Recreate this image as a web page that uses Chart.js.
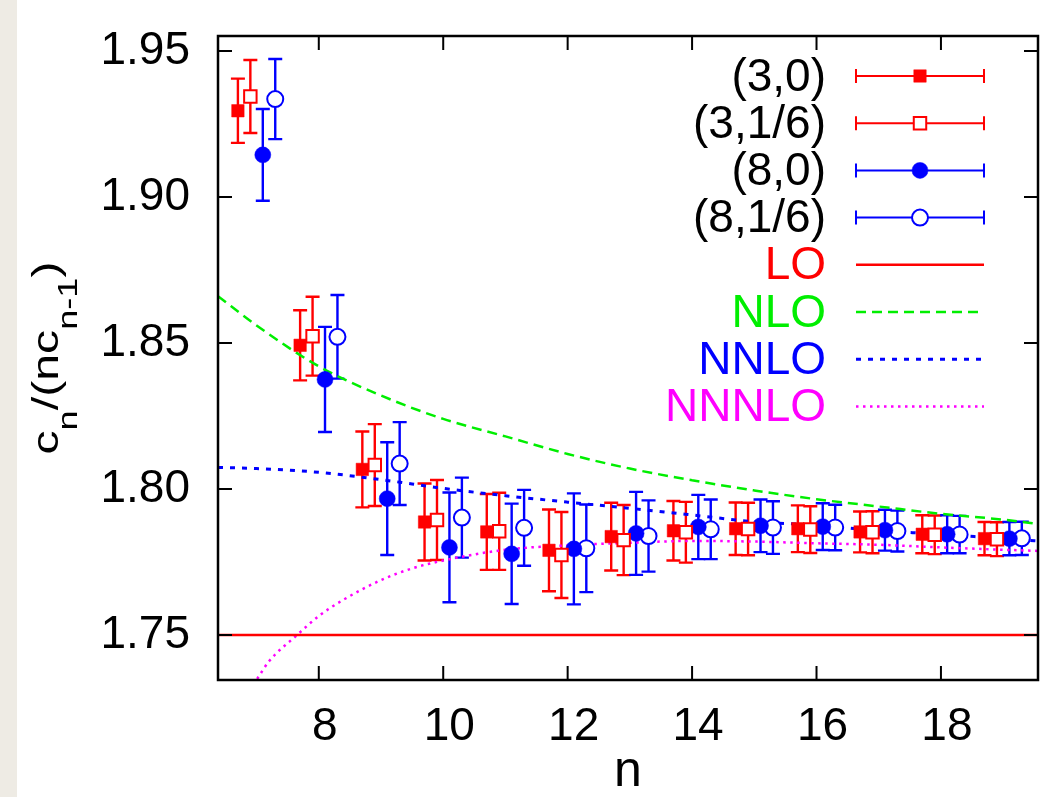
<!DOCTYPE html>
<html>
<head>
<meta charset="utf-8">
<script src="https://cdn.jsdelivr.net/npm/chart.js@4"></script>
<style>
  html, body { margin: 0; padding: 0; background: #fff; }
  #strip { position: absolute; left: 0; top: 0; width: 17px; height: 797px; background: #eeebe4; }
  #wrap { position: absolute; left: 0; top: 0; width: 1056px; height: 797px; }
</style>
</head>
<body>
<div id="strip"></div>
<div id="wrap"><canvas id="chart" width="1056" height="797"></canvas></div>
<script>
const nValues = [7, 8, 9, 10, 11, 12, 13, 14, 15, 16, 17, 18, 19];

const ratio30  = [1.9295, 1.8492, 1.8067, 1.7887, 1.7853, 1.7790, 1.7837, 1.7857, 1.7864, 1.7864, 1.7853, 1.7845, 1.7830];
const err30    = [0.0110, 0.0120, 0.0130, 0.0132, 0.0130, 0.0140, 0.0116, 0.0102, 0.0090, 0.0080, 0.0070, 0.0065, 0.0057];
const ratio316 = [1.9344, 1.8523, 1.8082, 1.7894, 1.7855, 1.7774, 1.7825, 1.7852, 1.7863, 1.7861, 1.7852, 1.7843, 1.7828];
const err316   = [0.0125, 0.0135, 0.0140, 0.0137, 0.0132, 0.0147, 0.0120, 0.0104, 0.0090, 0.0080, 0.0072, 0.0066, 0.0058];
const ratio80  = [1.9144, 1.8375, 1.7967, 1.7800, 1.7778, 1.7795, 1.7848, 1.7870, 1.7874, 1.7871, 1.7859, 1.7845, 1.7830];
const err80    = [0.0157, 0.0180, 0.0193, 0.0188, 0.0172, 0.0190, 0.0142, 0.0110, 0.0090, 0.0080, 0.0070, 0.0065, 0.0057];
const ratio816 = [1.9335, 1.8521, 1.8087, 1.7902, 1.7867, 1.7797, 1.7839, 1.7862, 1.7868, 1.7868, 1.7856, 1.7844, 1.7831];
const err816   = [0.0137, 0.0143, 0.0142, 0.0137, 0.0130, 0.0150, 0.0122, 0.0102, 0.0090, 0.0078, 0.0070, 0.0064, 0.0057];

// theory curves, sampled off the figure
const loN = [6.38, 19.56];
const loValues = [1.75, 1.75];
const nloN = [6.38, 7, 8, 9, 10, 11, 12, 13, 14, 15, 16, 17, 18, 19, 19.56];
const nloValues = [1.866, 1.856, 1.842, 1.832, 1.824, 1.818, 1.812, 1.807, 1.803, 1.7995, 1.7965, 1.794, 1.7915, 1.7895, 1.788];
const nnloN = [6.38, 7, 8, 9, 10, 11, 12, 13, 14, 15, 16, 17, 18, 19, 19.56];
const nnloValues = [1.8074, 1.8070, 1.8057, 1.8032, 1.8002, 1.7977, 1.7955, 1.7934, 1.7911, 1.7888, 1.7876, 1.7857, 1.7845, 1.7830, 1.7822];
const nnnloN = [7.01, 7.2, 7.65, 8, 8.39, 9, 9.5, 10, 11, 12, 13, 14, 15, 16, 17, 18, 19, 19.56];
const nnnloValues = [1.7350, 1.7410, 1.7500, 1.7565, 1.7620, 1.7688, 1.7728, 1.7755, 1.7792, 1.7807, 1.7816, 1.7822, 1.7820, 1.7814, 1.7809, 1.7800, 1.7792, 1.7788];

const xTicks = [8, 10, 12, 14, 16, 18];
const yTicks = [1.75, 1.80, 1.85, 1.90, 1.95];

const FONT = "'Liberation Sans', Arial, sans-serif";

function points(xs, ys, shift) {
    return xs.map((x, i) => ({ x: x + (shift || 0), y: ys[i] }));
}

// vertical error bars with caps, under the markers
const errorBars = {
    id: 'errorBars',
    beforeDatasetsDraw(chart) {
        const ctx = chart.ctx, xs = chart.scales.x, ys = chart.scales.y;
        chart.data.datasets.forEach((ds, i) => {
            if (!ds.errors) return;
            ctx.save();
            ctx.strokeStyle = ds.borderColor;
            ctx.lineWidth = 2.4;
            ds.data.forEach((p, j) => {
                const px = xs.getPixelForValue(p.x);
                const top = ys.getPixelForValue(p.y + ds.errors[j]);
                const bot = ys.getPixelForValue(p.y - ds.errors[j]);
                ctx.beginPath();
                ctx.moveTo(px, top); ctx.lineTo(px, bot);
                ctx.moveTo(px - 7, top); ctx.lineTo(px + 7, top);
                ctx.moveTo(px - 7, bot); ctx.lineTo(px + 7, bot);
                ctx.stroke();
            });
            ctx.restore();
        });
    }
};

function drawMarker(ctx, ds, x, y) {
    const r = ds.pointRadius;
    ctx.fillStyle = ds.backgroundColor;
    ctx.strokeStyle = ds.borderColor;
    ctx.lineWidth = ds.borderWidth;
    ctx.beginPath();
    if (ds.pointStyle === 'rect') {
        const s = r * Math.SQRT1_2;
        ctx.rect(x - s, y - s, 2 * s, 2 * s);
    } else {
        ctx.arc(x, y, r, 0, Math.PI * 2);
    }
    ctx.fill();
    ctx.stroke();
}

// frame, inward ticks, axis titles and the key
const decorations = {
    id: 'decorations',
    afterDraw(chart) {
        const ctx = chart.ctx, a = chart.chartArea;
        const xs = chart.scales.x, ys = chart.scales.y;
        ctx.save();
        ctx.strokeStyle = '#000';
        ctx.lineWidth = 2;
        ctx.beginPath();
        xTicks.forEach(v => {
            const px = xs.getPixelForValue(v);
            ctx.moveTo(px, a.bottom); ctx.lineTo(px, a.bottom - 14);
            ctx.moveTo(px, a.top); ctx.lineTo(px, a.top + 14);
        });
        yTicks.forEach(v => {
            const py = ys.getPixelForValue(v);
            ctx.moveTo(a.left, py); ctx.lineTo(a.left + 14, py);
            ctx.moveTo(a.right, py); ctx.lineTo(a.right - 14, py);
        });
        ctx.stroke();
        ctx.lineWidth = 2.5;
        ctx.strokeRect(a.left, a.top, a.right - a.left, a.bottom - a.top);

        // x title
        ctx.fillStyle = '#000';
        ctx.font = '50px ' + FONT;
        ctx.textAlign = 'center';
        ctx.textBaseline = 'alphabetic';
        ctx.fillText('n', (a.left + a.right) / 2, 786);

        // y title c_n/(nc_{n-1})
        const parts = [['c', 0], ['n', 1], ['/(nc', 0], ['n-1', 1], [')', 0]];
        const mainFont = '36px ' + FONT, subFont = '27px ' + FONT;
        let total = 0;
        parts.forEach(p => { ctx.font = p[1] ? subFont : mainFont; total += ctx.measureText(p[0]).width; });
        ctx.save();
        ctx.translate(58, (a.top + a.bottom) / 2);
        ctx.rotate(-Math.PI / 2);
        ctx.scale(193 / total, 1);
        ctx.textAlign = 'left';
        let cx = -total / 2;
        parts.forEach(p => {
            ctx.font = p[1] ? subFont : mainFont;
            ctx.fillText(p[0], cx, p[1] ? 19 : 0);
            cx += ctx.measureText(p[0]).width;
        });
        ctx.restore();

        // key
        ctx.font = '46px ' + FONT;
        ctx.textAlign = 'right';
        ctx.textBaseline = 'middle';
        const x0 = 856, x1 = 984, xm = 920;
        chart.data.datasets.forEach((ds, i) => {
            const y = 76 + i * 47.2;
            ctx.fillStyle = ds.errors ? '#000' : ds.borderColor;
            ctx.fillText(ds.label, 826, y + 2);
            ctx.save();
            ctx.strokeStyle = ds.borderColor;
            ctx.lineWidth = ds.errors ? 2 : ds.borderWidth;
            ctx.setLineDash(ds.borderDash || []);
            ctx.beginPath();
            ctx.moveTo(x0, y); ctx.lineTo(x1, y);
            if (ds.errors) {
                ctx.moveTo(x0, y - 7); ctx.lineTo(x0, y + 7);
                ctx.moveTo(x1, y - 7); ctx.lineTo(x1, y + 7);
            }
            ctx.stroke();
            ctx.setLineDash([]);
            if (ds.errors) drawMarker(ctx, ds, xm, y);
            ctx.restore();
        });
        ctx.restore();
    }
};

const RED = '#ff0000', BLUE = '#0000ff', GREEN = '#00ee00', MAGENTA = '#ff00ff';

function dataSet(label, ys, errs, shift, style, color, filled) {
    return {
        type: 'scatter', label: label,
        data: points(nValues, ys, shift),
        errors: errs,
        pointStyle: style,
        pointRadius: style === 'rect' ? 8.8 : 8,
        pointHoverRadius: style === 'rect' ? 8.8 : 8,
        backgroundColor: filled ? color : '#fff',
        borderColor: color,
        borderWidth: filled ? 0.5 : 2,
        order: 1
    };
}

function curve(label, xs, ys, color, dash, width) {
    return {
        type: 'line', label: label,
        data: points(xs, ys),
        borderColor: color,
        borderWidth: width,
        borderDash: dash,
        pointRadius: 0,
        tension: 0.4,
        cubicInterpolationMode: 'monotone',
        fill: false,
        order: 2
    };
}

new Chart(document.getElementById('chart').getContext('2d'), {
    type: 'scatter',
    data: {
        datasets: [
            dataSet('(3,0)', ratio30, err30, -0.3, 'rect', RED, true),
            dataSet('(3,1/6)', ratio316, err316, -0.1, 'rect', RED, false),
            dataSet('(8,0)', ratio80, err80, 0.1, 'circle', BLUE, true),
            dataSet('(8,1/6)', ratio816, err816, 0.3, 'circle', BLUE, false),
            curve('LO', loN, loValues, RED, [], 2.5),
            curve('NLO', nloN, nloValues, GREEN, [10, 6], 2.5),
            curve('NNLO', nnloN, nnloValues, BLUE, [5, 7], 3),
            curve('NNNLO', nnnloN, nnnloValues, MAGENTA, [2.5, 4.5], 2.5)
        ]
    },
    options: {
        responsive: false,
        animation: false,
        layout: { padding: { top: 36, right: 18, left: 0, bottom: 0 } },
        plugins: { legend: { display: false }, tooltip: { enabled: false } },
        scales: {
            x: {
                type: 'linear', min: 6.38, max: 19.56,
                grid: { display: false, drawTicks: false },
                border: { display: false },
                afterFit(scale) {
                    scale.height = 117;
                    scale.paddingLeft = 0; scale.paddingRight = 0;
                },
                afterBuildTicks(scale) { scale.ticks = xTicks.map(v => ({ value: v })); },
                ticks: {
                    color: '#000', padding: 20, labelOffset: 6,
                    font: { family: FONT, size: 46 },
                    callback: v => String(v)
                }
            },
            y: {
                type: 'linear', min: 1.7346, max: 1.9551,
                grid: { display: false, drawTicks: false },
                border: { display: false },
                afterFit(scale) {
                    scale.width = 218;
                    scale.paddingTop = 0; scale.paddingBottom = 0;
                },
                afterBuildTicks(scale) { scale.ticks = yTicks.map(v => ({ value: v })); },
                ticks: {
                    color: '#000', padding: 28,
                    font: { family: FONT, size: 46 },
                    callback: v => v.toFixed(2)
                }
            }
        }
    },
    plugins: [errorBars, decorations]
});
</script>
</body>
</html>
